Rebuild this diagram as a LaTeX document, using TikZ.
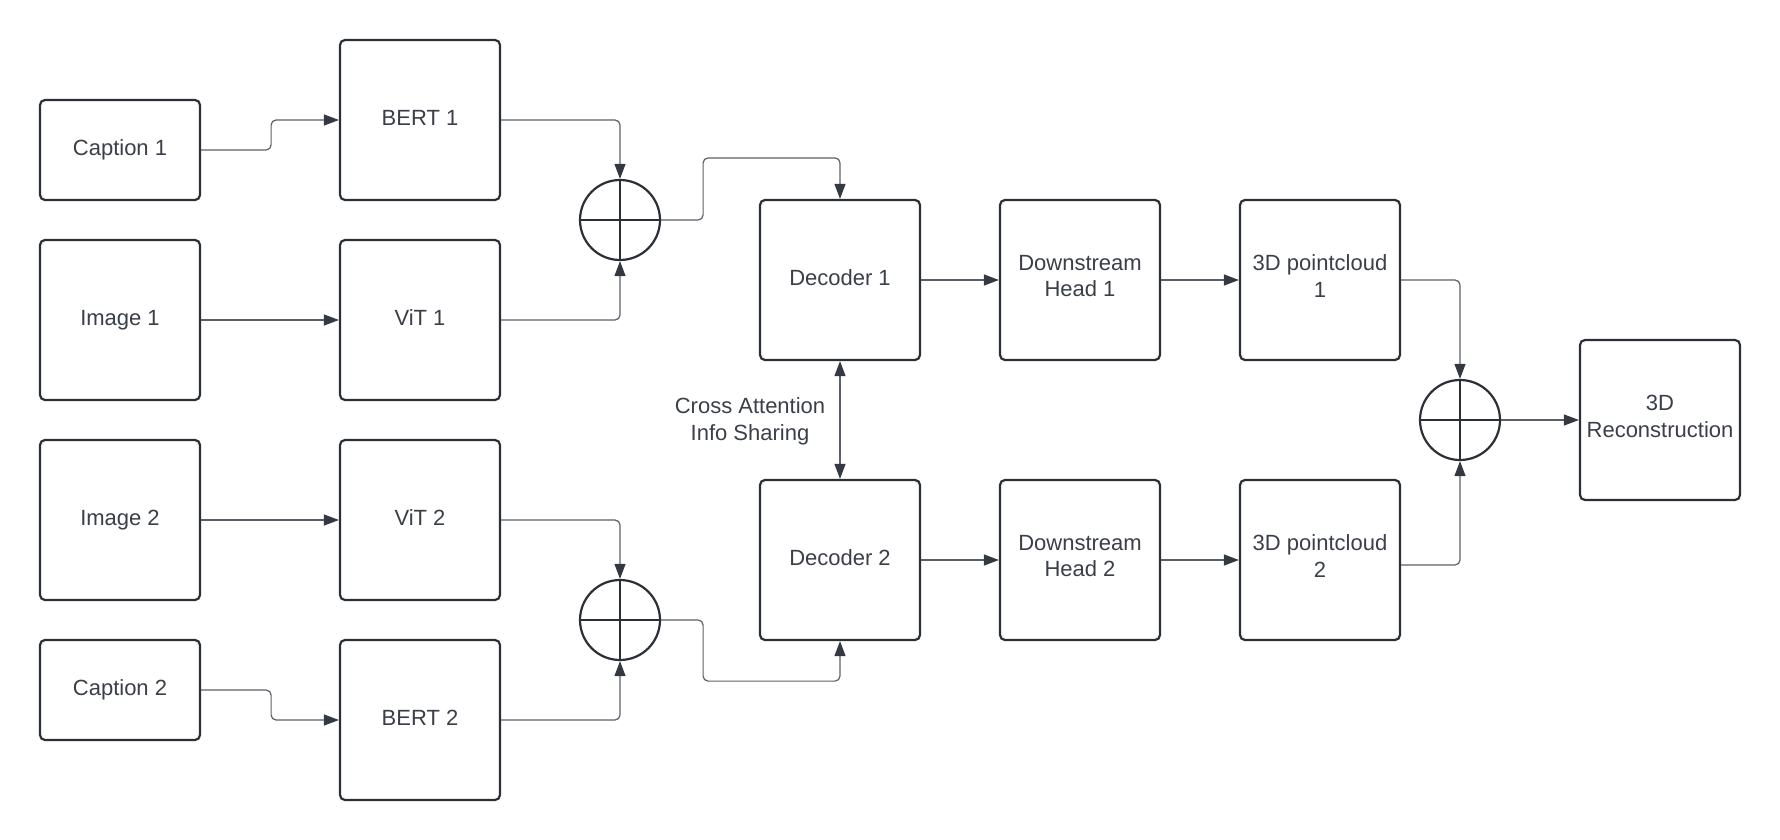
\documentclass[tikz,border=0pt]{standalone}
\usepackage{fontspec}
\setmainfont{Liberation Sans}
\usetikzlibrary{arrows.meta,calc}
\definecolor{boxline}{HTML}{2B2F36}
\definecolor{txt}{HTML}{3A3F48}
\definecolor{conline}{HTML}{5A5F67}
\definecolor{tipcol}{HTML}{343941}
\begin{document}
\begin{tikzpicture}[x=1pt,y=-1pt,
  blk/.style={draw=boxline, line width=2.2pt, rounded corners=5pt, fill=white,
    minimum width=160pt, minimum height=160pt, inner sep=2pt, align=center,
    text=txt, font=\fontsize{22}{26.7}\selectfont,
    execute at begin node=\strut, execute at end node=\strut},
  shortblk/.style={blk, minimum height=100pt},
  sumnode/.style={draw=boxline, line width=2.2pt, circle, minimum size=80pt, inner sep=0pt},
  conn/.style={draw=conline, line width=1.2pt, rounded corners=5pt,
    -{Triangle[length=15pt,width=11pt,color=tipcol]}},
  biconn/.style={draw=conline, line width=1.2pt,
    {Triangle[length=15pt,width=11pt,color=tipcol]}-{Triangle[length=15pt,width=11pt,color=tipcol]}},
  lbl/.style={text=txt, align=center, font=\fontsize{22}{26.7}\selectfont,
    execute at begin node=\strut, execute at end node=\strut}
]
\useasboundingbox (0,0) rectangle (1780,840);

% left column
\node[shortblk] (cap1) at (120,150) {Caption 1};
\node[blk] (img1) at (120,320) {Image 1};
\node[blk] (img2) at (120,520) {Image 2};
\node[shortblk] (cap2) at (120,690) {Caption 2};

% encoders
\node[blk] (bert1) at (420,120) {BERT 1};
\node[blk] (vit1) at (420,320) {ViT 1};
\node[blk] (vit2) at (420,520) {ViT 2};
\node[blk] (bert2) at (420,720) {BERT 2};

% sums
\node[sumnode] (sum1) at (620,220) {};
\node[sumnode] (sum2) at (620,620) {};
\node[sumnode] (sum3) at (1460,420) {};
\foreach \s in {sum1,sum2,sum3}{
  \draw[boxline, line width=2.2pt] (\s.north) -- (\s.south);
  \draw[boxline, line width=2.2pt] (\s.west) -- (\s.east);
}

% decoders and heads
\node[blk] (dec1) at (840,280) {Decoder 1};
\node[blk] (dec2) at (840,560) {Decoder 2};
\node[blk] (dh1) at (1080,280) {Downstream\\Head 1};
\node[blk] (dh2) at (1080,560) {Downstream\\Head 2};
\node[blk] (pc1) at (1320,280) {3D pointcloud\\1};
\node[blk] (pc2) at (1320,560) {3D pointcloud\\2};
\node[blk] (rec) at (1660,420) {3D\\Reconstruction};

\node[lbl] (xatt) at (750,423) {Cross Attention\\Info Sharing};

% connectors
\draw[conn] (cap1.east) -- ++(70,0) |- (bert1.west);
\draw[conn] (img1.east) -- (vit1.west);
\draw[conn] (img2.east) -- (vit2.west);
\draw[conn] (cap2.east) -- ++(70,0) |- (bert2.west);

\draw[conn] (bert1.east) -| (sum1.north);
\draw[conn] (vit1.east) -| (sum1.south);
\draw[conn] (vit2.east) -| (sum2.north);
\draw[conn] (bert2.east) -| (sum2.south);

\draw[conn] (sum1.east) -- ++(42,0) |- ($(dec1.north)+(0,-41)$) -- (dec1.north);
\draw[conn] (sum2.east) -- ++(42,0) |- ($(dec2.south)+(0,40)$) -- (dec2.south);

\draw[biconn] (dec1.south) -- (dec2.north);

\draw[conn] (dec1.east) -- (dh1.west);
\draw[conn] (dh1.east) -- (pc1.west);
\draw[conn] (dec2.east) -- (dh2.west);
\draw[conn] (dh2.east) -- (pc2.west);

\draw[conn] (pc1.east) -| (sum3.north);
\draw[conn] ($(pc2.east)+(0,5)$) -| (sum3.south);
\draw[conn] (sum3.east) -- (rec.west);
\end{tikzpicture}
\end{document}
